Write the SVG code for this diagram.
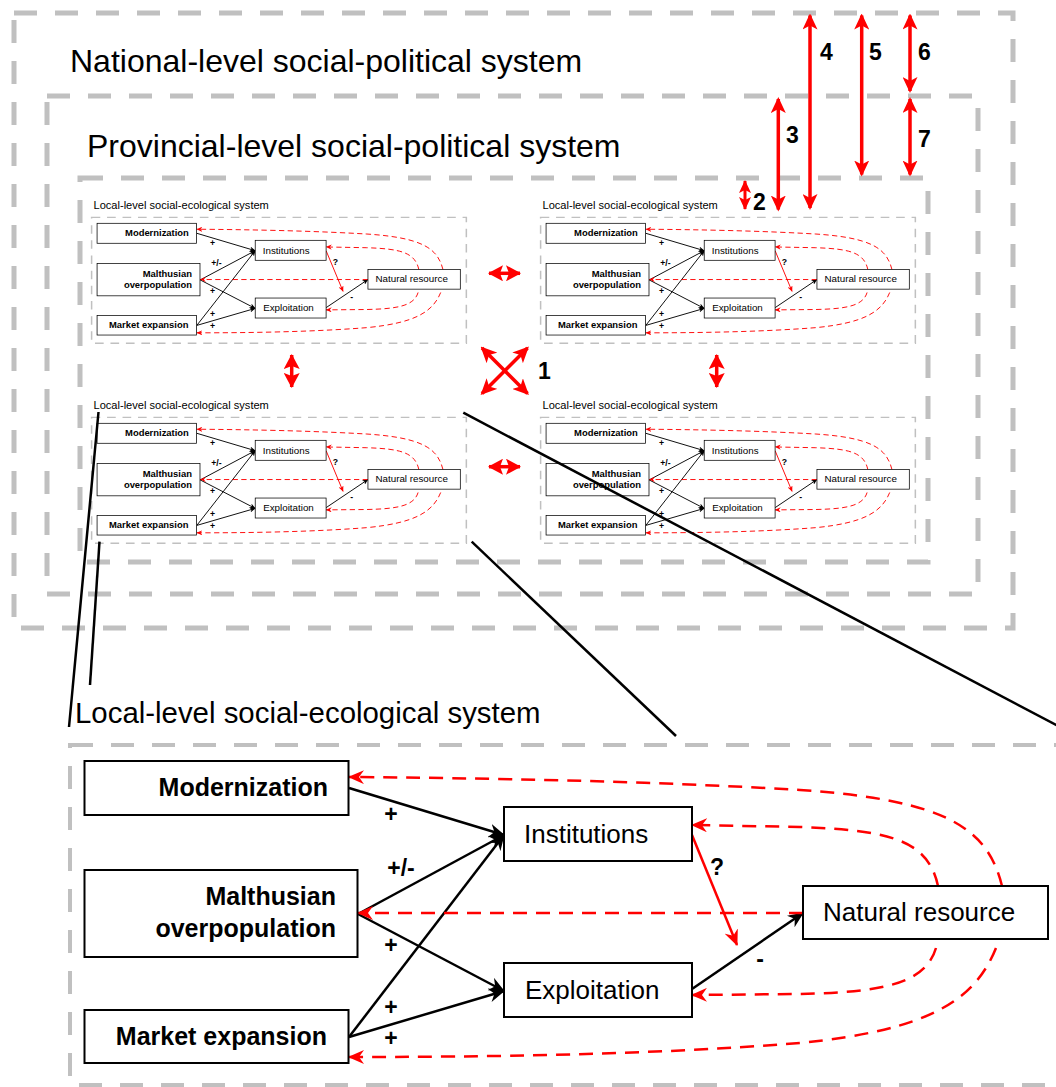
<svg xmlns="http://www.w3.org/2000/svg" width="1056" height="1087" viewBox="0 0 1056 1087">
<style>
.frame{fill:none;stroke:#c0c0c0;stroke-width:5;stroke-dasharray:23 18}
.lframe{fill:none;stroke:#c0c0c0;stroke-width:4;stroke-dasharray:23 18}
.box{fill:#fff;stroke:#000;stroke-width:2}
.bt{font-family:"Liberation Sans",Arial,sans-serif;font-weight:bold;font-size:25px;text-anchor:end;fill:#000}
.nt{font-family:"Liberation Sans",Arial,sans-serif;font-size:26px;fill:#000}
.lbl{font-family:"Liberation Sans",Arial,sans-serif;font-weight:bold;font-size:23px;text-anchor:middle;fill:#000}
.ttl{font-family:"Liberation Sans",Arial,sans-serif;font-size:32px;fill:#000}
.ltt{font-family:"Liberation Sans",Arial,sans-serif;font-size:29.4px;fill:#000}
.num{font-family:"Liberation Sans",Arial,sans-serif;font-weight:bold;font-size:23px;fill:#000}
.blk{fill:none;stroke:#000;stroke-width:2.5;marker-end:url(#ab)}
.rdash{fill:none;stroke:#f00;stroke-width:2.5;stroke-dasharray:14 9;marker-end:url(#ar)}
.rsolid{fill:none;stroke:#f00;stroke-width:2.5;marker-end:url(#ar)}
.big{stroke:#f00;stroke-width:3.5;marker-start:url(#rb);marker-end:url(#rb)}
.sm{stroke:#f00;stroke-width:3.5;marker-start:url(#rs);marker-end:url(#rs)}
.tiny{stroke:#f00;stroke-width:3;marker-start:url(#rt);marker-end:url(#rt)}
.zoomln{stroke:#000;stroke-width:2.5}
</style>
<defs>
<marker id="ab" viewBox="0 0 16 14" refX="15" refY="7" markerWidth="16" markerHeight="14" orient="auto" markerUnits="userSpaceOnUse"><path d="M0,0 L16,7 L0,14 L5,7 z" fill="#000"/></marker>
<marker id="ar" viewBox="0 0 16 14" refX="15" refY="7" markerWidth="16" markerHeight="14" orient="auto" markerUnits="userSpaceOnUse"><path d="M0,0 L16,7 L0,14 L5,7 z" fill="#f00"/></marker>
<marker id="rb" viewBox="0 0 16 15" refX="14" refY="7.5" markerWidth="16" markerHeight="15" orient="auto-start-reverse" markerUnits="userSpaceOnUse"><path d="M0,0 L16,7.5 L0,15 L4,7.5 z" fill="#f00"/></marker>
<marker id="rs" viewBox="0 0 15 16" refX="14" refY="8" markerWidth="15" markerHeight="16" orient="auto-start-reverse" markerUnits="userSpaceOnUse"><path d="M0,0 L15,8 L0,16 L3,8 z" fill="#f00"/></marker>
<marker id="rt" viewBox="0 0 13 12" refX="12" refY="6" markerWidth="13" markerHeight="12" orient="auto-start-reverse" markerUnits="userSpaceOnUse"><path d="M0,0 L13,6 L0,12 L3,6 z" fill="#f00"/></marker>
</defs>
<rect width="1056" height="1087" fill="#fff"/>

<g id="national-system">
<rect class="frame" x="14" y="13" width="999" height="615"/>
<text class="ttl" x="70" y="72">National-level social-political system</text>
</g>
<g id="provincial-system">
<rect class="frame" x="47" y="96" width="931" height="498"/>
<text class="ttl" x="87" y="157">Provincial-level social-political system</text>
</g>
<g id="local-container">
<rect class="frame" x="80" y="178" width="848" height="384"/>
</g>

<g id="local-copies">
<use href="#local-detail" transform="translate(97,223.3) scale(0.377,0.37) translate(-84.3,-761)"/>
<use href="#local-detail" transform="translate(546,223.3) scale(0.377,0.37) translate(-84.3,-761)"/>
<use href="#local-detail" transform="translate(97,423.3) scale(0.377,0.37) translate(-84.3,-761)"/>
<use href="#local-detail" transform="translate(546,423.3) scale(0.377,0.37) translate(-84.3,-761)"/>
</g>

<g id="interactions">
<line class="sm" x1="489" y1="273.3" x2="520" y2="273.3"/>
<line class="sm" x1="489" y1="466.7" x2="520" y2="466.7"/>
<line class="sm" x1="291.7" y1="355" x2="291.7" y2="387"/>
<line class="sm" x1="716.7" y1="355" x2="716.7" y2="387"/>
<line class="big" x1="482" y1="348" x2="527.5" y2="393.5"/>
<line class="big" x1="527.5" y1="348" x2="482" y2="393.5"/>
<line class="tiny" x1="745" y1="181" x2="745" y2="209"/>
<line class="big" x1="778.3" y1="99" x2="778.3" y2="209.5"/>
<line class="big" x1="810" y1="15.5" x2="810" y2="208"/>
<line class="big" x1="861.7" y1="15.5" x2="861.7" y2="174.5"/>
<line class="big" x1="910" y1="15.5" x2="910" y2="91"/>
<line class="big" x1="910" y1="99" x2="910" y2="174.5"/>
<text class="num" x="538" y="379">1</text>
<text class="num" x="753" y="210">2</text>
<text class="num" x="786" y="143">3</text>
<text class="num" x="820" y="60">4</text>
<text class="num" x="869" y="60">5</text>
<text class="num" x="918" y="60">6</text>
<text class="num" x="918" y="147">7</text>
</g>

<g id="zoom-lines">
<line class="zoomln" x1="98.5" y1="412" x2="69" y2="727"/>
<line class="zoomln" x1="99.5" y1="541.7" x2="90" y2="685"/>
<line class="zoomln" x1="463.3" y1="412.7" x2="1060" y2="727"/>
<line class="zoomln" x1="471.7" y1="541.7" x2="676" y2="736"/>
</g>

<g id="local-detail">
<text class="ltt" x="75" y="723">Local-level social-ecological system</text>
<rect class="lframe" x="70" y="745" width="994" height="340"/>
<g id="connectors">
<path class="blk" d="M349,788 L504,835"/>
<path class="blk" d="M358,914 L504,835"/>
<path class="blk" d="M358,914 L504,991"/>
<path class="blk" d="M349,1037 L504,835"/>
<path class="blk" d="M349,1037 L504,991"/>
<path class="blk" d="M692,989 L803,913"/>
<path class="rsolid" d="M692,835 L737,945"/>
<path class="rdash" d="M1002,886 C988,830 950,800 800,790 C650,781 480,778 349,777"/>
<path class="rdash" d="M938,886 C928,840 890,830 800,827 L692,825"/>
<path class="rdash" d="M803,913 L358,913"/>
<path class="rdash" d="M936,948 C925,985 880,992 800,994 L692,995"/>
<path class="rdash" d="M996,948 C975,1000 930,1030 800,1043 C650,1055 480,1057 349,1057"/>
<text class="lbl" x="391" y="822">+</text>
<text class="lbl" x="401" y="876">+/-</text>
<text class="lbl" x="391" y="953">+</text>
<text class="lbl" x="391" y="1015">+</text>
<text class="lbl" x="391" y="1046">+</text>
<text class="lbl" x="717" y="875">?</text>
<text class="lbl" x="760" y="967">-</text>
</g>
<g id="modernization">
<rect class="box" x="84.5" y="761" width="264" height="54"/>
<text class="bt" x="328" y="796">Modernization</text>
</g>
<g id="malthusian">
<rect class="box" x="84.5" y="870" width="273" height="87"/>
<text class="bt" x="336" y="905">Malthusian</text>
<text class="bt" x="336" y="937">overpopulation</text>
</g>
<g id="market">
<rect class="box" x="84.5" y="1010" width="264" height="53"/>
<text class="bt" x="327" y="1045">Market expansion</text>
</g>
<g id="institutions">
<rect class="box" x="504" y="807" width="188" height="54"/>
<text class="nt" x="524" y="843">Institutions</text>
</g>
<g id="exploitation">
<rect class="box" x="504" y="963" width="188" height="54"/>
<text class="nt" x="525" y="999">Exploitation</text>
</g>
<g id="natural-resource">
<rect class="box" x="803" y="886" width="245" height="53"/>
<text class="nt" x="823" y="921">Natural resource</text>
</g>
</g>
</svg>
